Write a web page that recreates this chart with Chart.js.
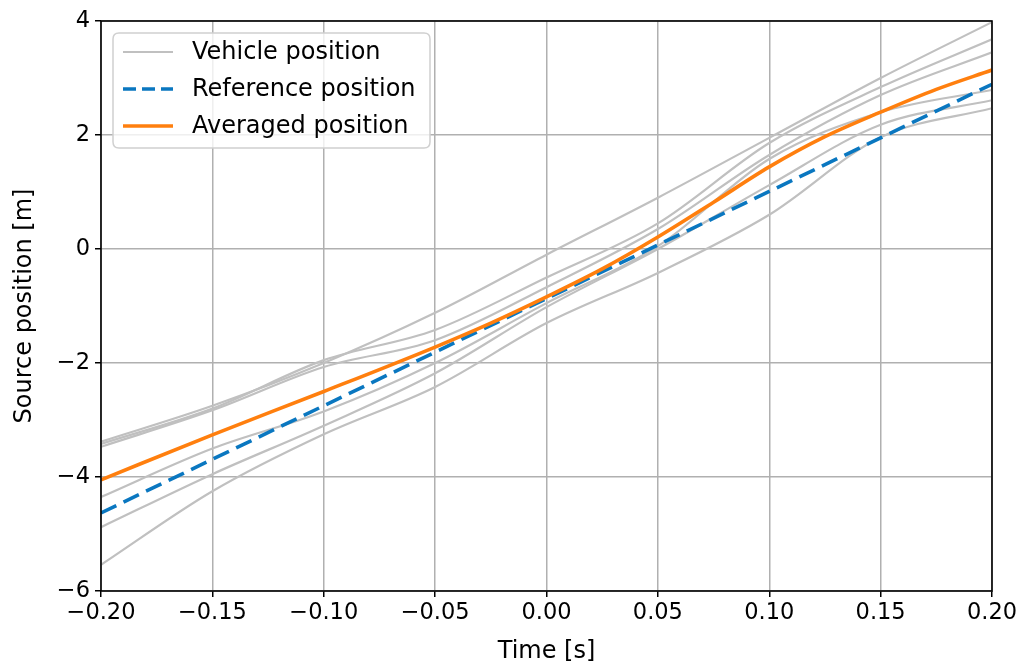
<!DOCTYPE html>
<html>
<head>
<meta charset="utf-8">
<script src="https://cdn.jsdelivr.net/npm/chart.js@4.4.0/dist/chart.umd.min.js"></script>
<style>
  html, body { margin: 0; padding: 0; background: #ffffff; }
  #wrap { width: 1035px; height: 664px; position: relative; }
</style>
</head>
<body>
<div id="wrap"><canvas id="c" width="1035" height="664"></canvas></div>
<script>
// ---- Data ----
const timeTicks = [-0.20, -0.15, -0.10, -0.05, 0.00, 0.05, 0.10, 0.15, 0.20];
const positionTicks = [-6, -4, -2, 0, 2, 4];

const vehicleTime = [-0.20, -0.15, -0.10, -0.05, 0.00, 0.05, 0.10, 0.15, 0.20];
const vehicle1 = [-3.38, -2.75, -2.00, -1.12, -0.10, 0.90, 1.95, 3.00, 3.98];
const vehicle2 = [-3.42, -2.80, -1.95, -1.42, -0.50, 0.45, 1.86, 2.84, 3.68];
const vehicle3 = [-3.47, -2.83, -2.07, -1.60, -0.67, 0.35, 1.65, 2.70, 3.45];
const vehicle4 = [-4.35, -3.50, -2.85, -2.00, -0.95, 0.05, 1.58, 2.40, 2.79];
const vehicle5 = [-4.88, -3.95, -3.10, -2.18, -1.02, 0.00, 1.12, 2.18, 2.61];
const vehicle6 = [-5.54, -4.25, -3.25, -2.42, -1.30, -0.42, 0.60, 1.96, 2.47];

const referenceTime = [-0.20, -0.15, -0.10, -0.05, 0.00, 0.05, 0.10, 0.15, 0.20];
const referencePos  = [-4.63, -3.69, -2.75, -1.81, -0.87, 0.07, 1.01, 1.95, 2.89];

const averagedTime = [-0.20, -0.15, -0.10, -0.05, -0.025, 0.00, 0.025, 0.05, 0.075, 0.10, 0.125, 0.15, 0.175, 0.20];
const averagedPos  = [-4.05, -3.26, -2.50, -1.72, -1.30, -0.84, -0.35, 0.21, 0.82, 1.44, 1.97, 2.40, 2.80, 3.14];

const legendLabels = ['Vehicle position', 'Reference position', 'Averaged position'];

// ---- Build datasets ----
function pts(xs, ys) { return xs.map((x, i) => ({ x: x, y: ys[i] })); }

const GRAY = '#c0c0c0', BLUE = '#0a77c0', ORANGE = '#ff7f0e';
const vehicles = [vehicle1, vehicle2, vehicle3, vehicle4, vehicle5, vehicle6];

const datasets = vehicles.map((v, i) => ({
  label: i === 0 ? legendLabels[0] : '',
  data: pts(vehicleTime, v),
  borderColor: GRAY, borderWidth: 2.2,
  pointRadius: 0, showLine: true, fill: false,
  cubicInterpolationMode: 'monotone', order: 3
}));
datasets.push({
  label: legendLabels[1], data: pts(referenceTime, referencePos),
  borderColor: BLUE, borderWidth: 3.6, borderDash: [17, 8],
  pointRadius: 0, showLine: true, fill: false, order: 2
});
datasets.push({
  label: legendLabels[2], data: pts(averagedTime, averagedPos),
  borderColor: ORANGE, borderWidth: 3.6,
  pointRadius: 0, showLine: true, fill: false,
  cubicInterpolationMode: 'monotone', order: 1
});

const FONT = 'DejaVu Sans';
function fmt(v, d) {
  if (Math.abs(v) < 1e-9) v = 0;
  const s = v.toFixed(d);
  return s.replace('-', '\u2212');
}

// frame + legend plugin
const framePlugin = {
  id: 'frame',
  afterDraw(chart) {
    const { ctx, chartArea: a } = chart;
    ctx.save();
    ctx.strokeStyle = '#000';
    ctx.lineWidth = 1.6;
    ctx.strokeRect(a.left, a.top, a.right - a.left, a.bottom - a.top);

    // legend box
    const bx = a.left + 12, by = a.top + 12, bw = 317, bh = 115, r = 6;
    ctx.beginPath();
    ctx.moveTo(bx + r, by);
    ctx.lineTo(bx + bw - r, by); ctx.quadraticCurveTo(bx + bw, by, bx + bw, by + r);
    ctx.lineTo(bx + bw, by + bh - r); ctx.quadraticCurveTo(bx + bw, by + bh, bx + bw - r, by + bh);
    ctx.lineTo(bx + r, by + bh); ctx.quadraticCurveTo(bx, by + bh, bx, by + bh - r);
    ctx.lineTo(bx, by + r); ctx.quadraticCurveTo(bx, by, bx + r, by);
    ctx.closePath();
    ctx.fillStyle = 'rgba(255,255,255,0.8)';
    ctx.fill();
    ctx.strokeStyle = '#d0d0d0';
    ctx.lineWidth = 1.5;
    ctx.stroke();

    const rows = [by + 19, by + 56, by + 93];
    const styles = [
      { c: GRAY, w: 2.2, d: [] },
      { c: BLUE, w: 3.6, d: [13, 6] },
      { c: ORANGE, w: 3.6, d: [] }
    ];
    ctx.font = '24px "' + FONT + '"';
    ctx.textBaseline = 'middle';
    ctx.textAlign = 'left';
    rows.forEach((y, i) => {
      ctx.beginPath();
      ctx.setLineDash(styles[i].d);
      ctx.strokeStyle = styles[i].c;
      ctx.lineWidth = styles[i].w;
      ctx.moveTo(bx + 10, y); ctx.lineTo(bx + 60, y);
      ctx.stroke();
      ctx.setLineDash([]);
      ctx.fillStyle = '#000';
      ctx.fillText(legendLabels[i], bx + 79, y + 1);
    });
    ctx.restore();
  }
};

new Chart(document.getElementById('c'), {
  type: 'scatter',
  data: { datasets },
  plugins: [framePlugin],
  options: {
    responsive: false,
    animation: false,
    devicePixelRatio: 1,
    layout: { padding: { left: 0, right: 43, top: 21, bottom: 0 } },
    plugins: { legend: { display: false }, tooltip: { enabled: false } },
    scales: {
      x: {
        type: 'linear', min: -0.2, max: 0.2,
        afterBuildTicks(scale) { scale.ticks = timeTicks.map(v => ({ value: v })); },
        afterFit(scale) { scale.height = 73; },
        grid: { color: '#b0b0b0', lineWidth: 1.5, tickColor: '#000', tickLength: 6, drawTicks: true },
        border: { display: false },
        ticks: {
          font: { family: FONT, size: 22.5 }, color: '#000', padding: 3, maxRotation: 0,
          callback: (v) => fmt(v, 2)
        },
        title: { display: true, text: 'Time [s]', font: { family: FONT, size: 24, lineHeight: 1.0 }, color: '#000', padding: { top: 0, bottom: 0 } }
      },
      y: {
        type: 'linear', min: -6, max: 4,
        afterBuildTicks(scale) { scale.ticks = positionTicks.map(v => ({ value: v })); },
        afterFit(scale) { scale.width = 101; },
        grid: { color: '#b0b0b0', lineWidth: 1.5, tickColor: '#000', tickLength: 6, drawTicks: true },
        border: { display: false },
        ticks: {
          font: { family: FONT, size: 22.5 }, color: '#000', padding: 5,
          callback: (v) => fmt(v, 0)
        },
        title: { display: true, text: 'Source position [m]', font: { family: FONT, size: 24, lineHeight: 1.0 }, color: '#000', padding: { top: 13, bottom: 0 } }
      }
    }
  }
});
</script>
</body>
</html>
